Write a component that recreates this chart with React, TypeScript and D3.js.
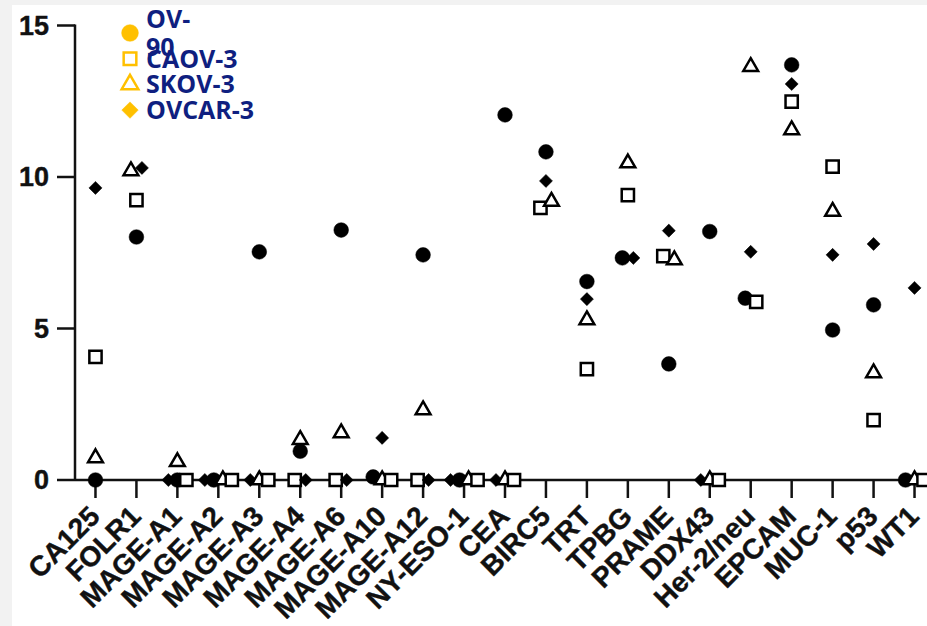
import * as d3 from "d3";

const categories = [
  "CA125", "FOLR1", "MAGE-A1", "MAGE-A2", "MAGE-A3", "MAGE-A4", "MAGE-A6",
  "MAGE-A10", "MAGE-A12", "NY-ESO-1", "CEA", "BIRC5", "TRT", "TPBG", "PRAME",
  "DDX43", "Her-2/neu", "EPCAM", "MUC-1", "p53", "WT1",
];

const ov90 = [0, 8.02, 0, 0, 7.53, 0.95, 8.25, 0.1, 7.43, 0, 12.05, 10.83, 6.55, 7.33, 3.83, 8.2, 6.0, 13.7, 4.95, 5.78, 0];
const caov3 = [4.06, 9.24, 0, 0, 0, 0, 0, 0, 0, 0, 0, 8.98, 3.66, 9.4, 7.39, 0, 5.88, 12.49, 10.34, 1.98, 0];
const skov3 = [0.73, 10.2, 0.6, 0, 0, 1.33, 1.55, 0, 2.31, 0, 0, 9.19, 5.28, 10.46, 7.26, 0, 13.64, 11.55, 8.86, 3.53, 0];
const ovcar3 = [9.64, 10.3, 0, 0, 0, 0, 0, 1.39, 0, 0, 0, 9.87, 5.97, 7.33, 8.23, 0, 7.53, 13.07, 7.43, 7.79, 6.34];

const seriesNames = ["OV-90", "CAOV-3", "SKOV-3", "OVCAR-3"];
const seriesValues = [ov90, caov3, skov3, ovcar3];
const yTicks = [0, 5, 10, 15];

// marker style per series: circle filled, square open, triangle open, diamond filled
const markers = [
  { type: d3.symbolCircle, size: 170, legend: 220, filled: true, rotate: 0 },
  { type: d3.symbolSquare, size: 150, legend: 160, filled: false, rotate: 0 },
  { type: d3.symbolTriangle, size: 95, legend: 120, filled: false, rotate: 0 },
  { type: d3.symbolSquare, size: 85, legend: 135, filled: true, rotate: 45 },
];
const dodgeOrder = [3, 0, 2, 1];

const W = 927;
const H = 626;
const AX = 75;
const AY = 480;

export default function App() {
  const x = d3.scalePoint<number>().domain(d3.range(categories.length)).range([AX, 935]).padding(0.5);
  const y = d3.scaleLinear().domain([0, 15]).range([AY, 25.5]);

  // spread points with near-equal values sideways, like a scatter dot plot
  const points: { s: number; cx: number; cy: number }[] = [];
  categories.forEach((_, ci) => {
    const pts = seriesValues
      .map((vals, s) => ({ s, v: vals[ci] }))
      .sort((a, b) => a.v - b.v);
    const groups: { s: number; v: number }[][] = [];
    pts.forEach(p => {
      const g = groups[groups.length - 1];
      if (g && Math.abs(y(g[0].v) - y(p.v)) < 8) g.push(p);
      else groups.push([p]);
    });
    groups.forEach(g => {
      const step = g.length > 2 ? 9 : 11;
      const ordered = [...g].sort((a, b) =>
        g.length > 2 ? dodgeOrder.indexOf(a.s) - dodgeOrder.indexOf(b.s) : a.s - b.s
      );
      ordered.forEach((p, i) => {
        points.push({ s: p.s, cx: x(ci)! + (i - (g.length - 1) / 2) * step, cy: y(p.v) });
      });
    });
  });

  const sym = (s: number, size: number) => d3.symbol(markers[s].type, size)()!;
  const axisFont = "'Liberation Sans', Arial, sans-serif";

  return (
    <svg width={W} height={H} style={{ position: "absolute", left: 0, top: 0 }}>
      <rect width={W} height={H} fill="#f2f2f2" />
      <rect x={12} y={5} width={W - 12} height={H - 5} fill="#fff" />

      {/* y axis */}
      <line x1={AX} x2={AX} y1={y(15) - 1} y2={AY} stroke="#111" strokeWidth={2.5} />
      {yTicks.map(t => (
        <g key={t}>
          <line x1={AX - 18} x2={AX} y1={y(t)} y2={y(t)} stroke="#111" strokeWidth={2.5} />
          <text x={49} y={y(t) + 9} textAnchor="end" fontFamily={axisFont} fontWeight="bold" fontSize={27} fill="#111" stroke="#111" strokeWidth={0.4}>
            {t}
          </text>
        </g>
      ))}

      {/* x axis */}
      <line x1={AX} x2={W} y1={AY} y2={AY} stroke="#111" strokeWidth={2.5} />
      {categories.map((c, i) => (
        <g key={c}>
          <line x1={x(i)} x2={x(i)} y1={AY} y2={AY + 18} stroke="#111" strokeWidth={2.5} />
          <text
            transform={`translate(${x(i)! + 6},${AY + 38}) rotate(-45)`}
            textAnchor="end"
            fontFamily={axisFont}
            fontWeight="bold"
            fontSize={28}
            fill="#111"
            stroke="#111"
            strokeWidth={0.4}
          >
            {c}
          </text>
        </g>
      ))}

      {/* points */}
      {points.map((p, i) => {
        const m = markers[p.s];
        return (
          <path
            key={i}
            d={sym(p.s, m.size)}
            transform={`translate(${p.cx},${p.cy}) rotate(${m.rotate})`}
            fill={m.filled ? "#000" : "#fff"}
            stroke="#000"
            strokeWidth={m.filled ? 0.5 : 2.5}
          />
        );
      })}

      {/* legend */}
      {seriesNames.map((name, s) => {
        const m = markers[s];
        const ly = 33 + s * 25.7;
        const parts = s === 0 ? ["OV-", "90"] : [name];
        return (
          <g key={name}>
            <path
              d={sym(s, m.legend)}
              transform={`translate(130,${ly}) rotate(${m.rotate})`}
              fill={m.filled ? "#ffc000" : "#fff"}
              stroke="#ffc000"
              strokeWidth={m.filled ? 0.5 : 2.5}
            />
            <text x={146} y={ly + 9 - (parts.length - 1) * 14} fontFamily="'Open Sans', sans-serif" fontWeight="bold" fontSize={25} fill="#0f1f80">
              {parts.map((t, k) => (
                <tspan key={k} x={146} dy={k === 0 ? 0 : 28}>
                  {t}
                </tspan>
              ))}
            </text>
          </g>
        );
      })}
    </svg>
  );
}
